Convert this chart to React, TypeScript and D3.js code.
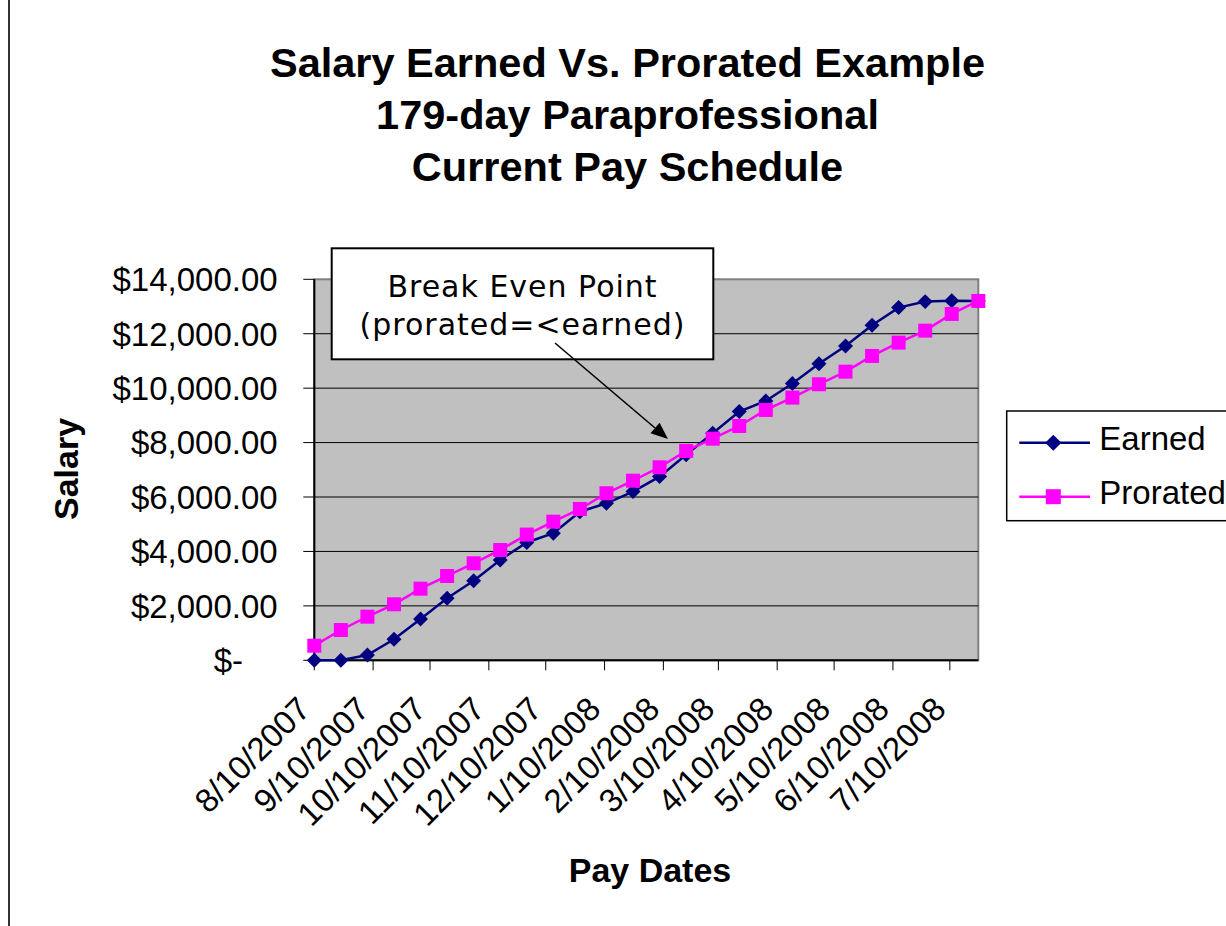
import React from "react";
import * as d3 from "d3";

const titleLines = [
  "Salary Earned Vs. Prorated Example",
  "179-day Paraprofessional",
  "Current Pay Schedule",
];

const payDates = [
  "8/10/2007", "8/24/2007", "9/7/2007", "9/21/2007", "10/5/2007", "10/19/2007",
  "11/2/2007", "11/16/2007", "11/30/2007", "12/14/2007", "12/28/2007", "1/11/2008",
  "1/25/2008", "2/8/2008", "2/22/2008", "3/7/2008", "3/21/2008", "4/4/2008",
  "4/18/2008", "5/2/2008", "5/16/2008", "5/30/2008", "6/13/2008", "6/27/2008",
  "7/11/2008", "7/25/2008",
];

const earned = [
  0, 0, 195, 772, 1518, 2279, 2925, 3686, 4330, 4670, 5460, 5770,
  6200, 6750, 7550, 8340, 9140, 9530, 10170, 10900, 11550, 12310,
  12960, 13180, 13210, 13200,
];

const prorated = [
  537, 1114, 1602, 2058, 2631, 3098, 3565, 4054, 4620, 5094, 5560, 6137,
  6600, 7093, 7692, 8144, 8610, 9199, 9651, 10143, 10606, 11183,
  11672, 12113, 12727, 13204,
];

const seriesNames = ["Earned", "Prorated"];
const seriesColors = ["#000080", "#FF00FF"];

const xTickLabels = [
  "8/10/2007", "9/10/2007", "10/10/2007", "11/10/2007", "12/10/2007", "1/10/2008",
  "2/10/2008", "3/10/2008", "4/10/2008", "5/10/2008", "6/10/2008", "7/10/2008",
];

const yTicks = [0, 2000, 4000, 6000, 8000, 10000, 12000, 14000];

const xAxisTitle = "Pay Dates";
const yAxisTitle = "Salary";
const noteLines = ["Break Even Point", "(prorated=<earned)"];

const SANS = "'Liberation Sans', Arial, Helvetica, sans-serif";
const NOTE_FONT = "'DejaVu Sans', Verdana, sans-serif";

export default function App() {
  const W = 1226;
  const H = 926;
  const plot = { left: 314.3, right: 978.3, top: 279.3, bottom: 660.3 };
  const parse = d3.timeParse("%m/%d/%Y");
  const dates = payDates.map((s) => parse(s) as Date);

  const x = d3
    .scaleTime()
    .domain([dates[0], dates[dates.length - 1]])
    .range([plot.left, plot.right]);
  const y = d3.scaleLinear().domain([0, 14000]).range([plot.bottom, plot.top]);

  const money = d3.format("$,.2f");
  const yLabel = (v: number) => (v === 0 ? "$-" : money(v));

  const mkLine = (vals: number[]) =>
    d3
      .line<number>()
      .x((_, i) => x(dates[i]))
      .y((d) => y(d))(vals) || "";

  const diamondType = (d3 as any).symbolDiamond2 || d3.symbolDiamond;
  const diamond = d3.symbol().type(diamondType).size(143)() || "";
  const square = d3.symbol().type(d3.symbolSquare).size(196)() || "";
  const diamondLg = d3.symbol().type(diamondType).size(165)() || "";
  const squareLg = d3.symbol().type(d3.symbolSquare).size(225)() || "";

  const series = [
    { name: seriesNames[0], values: earned, color: seriesColors[0], marker: diamond, lg: diamondLg },
    { name: seriesNames[1], values: prorated, color: seriesColors[1], marker: square, lg: squareLg },
  ];

  const xTicks = xTickLabels.map((s) => ({ label: s, date: parse(s) as Date }));

  // annotation box geometry
  const box = { x: 331.7, y: 248.3, w: 381.6, h: 111 };
  const arrowFrom = [555, 343];
  const arrowTo = [668, 439];
  const ang = Math.atan2(arrowTo[1] - arrowFrom[1], arrowTo[0] - arrowFrom[0]);
  const headLen = 17;
  const headW = 7;
  const bx = arrowTo[0] - headLen * Math.cos(ang);
  const by = arrowTo[1] - headLen * Math.sin(ang);
  const head = `M${arrowTo[0]},${arrowTo[1]} L${bx + headW * Math.sin(ang)},${by - headW * Math.cos(ang)} L${bx - headW * Math.sin(ang)},${by + headW * Math.cos(ang)} Z`;

  return (
    <svg
      width={W}
      height={H}
      viewBox={`0 0 ${W} ${H}`}
      style={{ position: "absolute", left: 0, top: 0, display: "block", background: "#fff" }}
    >
      <rect x={0} y={0} width={W} height={H} fill="#fff" />
      {/* chart area border (left edge visible) */}
      <line x1={9} y1={0} x2={9} y2={H} stroke="#333" strokeWidth={2} />

      {/* title */}
      {titleLines.map((t, i) => (
        <text
          key={t}
          x={627.5}
          y={77 + i * 52}
          textAnchor="middle"
          fontFamily={SANS}
          fontWeight="bold"
          fontSize={41.5}
          fill="#000"
        >
          {t}
        </text>
      ))}

      {/* plot area */}
      <rect
        x={plot.left}
        y={plot.top}
        width={plot.right - plot.left}
        height={plot.bottom - plot.top}
        fill="#C0C0C0"
        stroke="#808080"
        strokeWidth={2}
      />
      {yTicks
        .filter((v) => v > 0 && v < 14000)
        .map((v) => (
          <line key={v} x1={plot.left} x2={plot.right} y1={y(v)} y2={y(v)} stroke="#000" strokeWidth={1} />
        ))}

      {/* y axis */}
      <line x1={plot.left} x2={plot.left} y1={plot.top} y2={plot.bottom} stroke="#000" strokeWidth={2} />
      {yTicks.map((v) => (
        <g key={v}>
          <line x1={plot.left - 11} x2={plot.left} y1={y(v)} y2={y(v)} stroke="#000" strokeWidth={1} />
          <text
            x={v === 0 ? 243 : 277.7}
            y={y(v)}
            dy="0.36em"
            textAnchor="end"
            fontFamily={SANS}
            fontSize={33}
            fill="#000"
          >
            {yLabel(v)}
          </text>
        </g>
      ))}

      {/* x axis */}
      <line x1={plot.left} x2={plot.right} y1={plot.bottom} y2={plot.bottom} stroke="#000" strokeWidth={2} />
      {xTicks.map((t) => (
        <g key={t.label}>
          <line x1={x(t.date)} x2={x(t.date)} y1={plot.bottom} y2={plot.bottom + 10} stroke="#000" strokeWidth={1} />
          <text
            transform={`translate(${x(t.date) - 2},${711}) rotate(-45)`}
            textAnchor="end"
            fontFamily={SANS}
            fontSize={33}
            fill="#000"
          >
            {t.label}
          </text>
        </g>
      ))}

      {/* series */}
      {series.map((s) => (
        <g key={s.name}>
          <path d={mkLine(s.values)} fill="none" stroke={s.color} strokeWidth={2.5} />
          {s.values.map((v, i) => (
            <path key={i} d={s.marker} transform={`translate(${x(dates[i])},${y(v)})`} fill={s.color} />
          ))}
        </g>
      ))}

      {/* axis titles */}
      <text
        x={650}
        y={881.7}
        textAnchor="middle"
        fontFamily={SANS}
        fontWeight="bold"
        fontSize={34}
        fill="#000"
      >
        {xAxisTitle}
      </text>
      <text
        transform="translate(78,469) rotate(-90)"
        textAnchor="middle"
        fontFamily={SANS}
        fontWeight="bold"
        fontSize={34}
        fill="#000"
      >
        {yAxisTitle}
      </text>

      {/* annotation */}
      <rect x={box.x} y={box.y} width={box.w} height={box.h} fill="#fff" stroke="#000" strokeWidth={2} />
      {noteLines.map((t, i) => (
        <text
          key={t}
          x={box.x + box.w / 2}
          y={296.7 + i * 38.5}
          textAnchor="middle"
          fontFamily={NOTE_FONT}
          fontSize={30}
          letterSpacing={1}
          fill="#000"
        >
          {t}
        </text>
      ))}
      <line x1={arrowFrom[0]} y1={arrowFrom[1]} x2={bx} y2={by} stroke="#000" strokeWidth={1.6} />
      <path d={head} fill="#000" />

      {/* legend */}
      <rect x={1006.7} y={411} width={260} height={109.7} fill="#fff" stroke="#000" strokeWidth={1.5} />
      {series.map((s, i) => {
        const ly = 442.7 + i * 54;
        return (
          <g key={s.name}>
            <line x1={1019.3} x2={1090} y1={ly} y2={ly} stroke={s.color} strokeWidth={2.5} />
            <path d={s.lg} transform={`translate(${1053.3},${ly})`} fill={s.color} />
            <text x={1099.3} y={ly + 7.5} fontFamily={SANS} fontSize={33} fill="#000">
              {s.name}
            </text>
          </g>
        );
      })}
    </svg>
  );
}
